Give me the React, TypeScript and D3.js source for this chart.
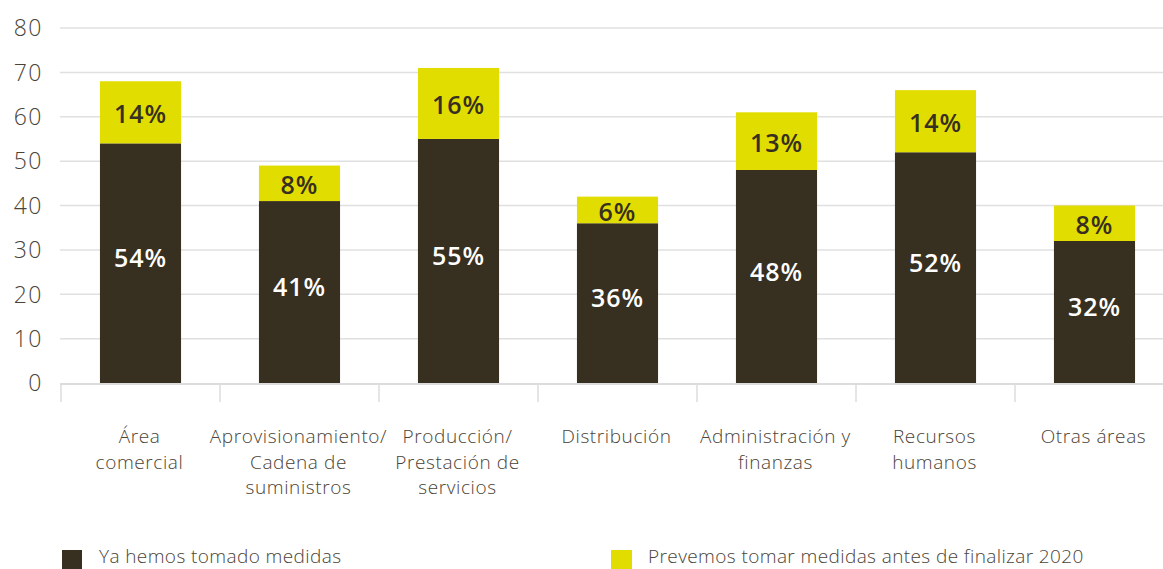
import React from "react";
import * as d3 from "d3";

const categories: string[][] = [
  ["Área", "comercial"],
  ["Aprovisionamiento/", "Cadena de", "suministros"],
  ["Producción/", "Prestación de", "servicios"],
  ["Distribución"],
  ["Administración y", "finanzas"],
  ["Recursos", "humanos"],
  ["Otras áreas"],
];
const taken: number[] = [54, 41, 55, 36, 48, 52, 32];
const planned: number[] = [14, 8, 16, 6, 13, 14, 8];
const yTicks: number[] = [0, 10, 20, 30, 40, 50, 60, 70, 80];
const seriesNames: string[] = [
  "Ya hemos tomado medidas",
  "Prevemos tomar medidas antes de finalizar 2020",
];

const W = 1163;
const H = 569;
const DARK = "#372f20";
const YELLOW = "#e2dd00";
const TEXT = "#4a4337";
const FONT = "'Open Sans', sans-serif";

export default function App() {
  const keys = categories.map((_, i) => String(i));
  const x = d3
    .scaleBand<string>()
    .domain(keys)
    .range([60, 1173])
    .paddingInner(0.49)
    .paddingOuter(0.245);
  const y = d3.scaleLinear().domain([0, 80]).range([383, 28]);
  const step = x.step();
  const bandStart = 60;

  return (
    <svg
      width={W}
      height={H}
      style={{ position: "absolute", left: 0, top: 0, display: "block", background: "#fff" }}
      fontFamily={FONT}
    >
      {yTicks.map((t) => (
        <g key={t}>
          {t > 0 && (
            <line x1={60} x2={W} y1={y(t)} y2={y(t)} stroke="#e0e0e0" strokeWidth={1.5} />
          )}
          <text
            x={43}
            y={y(t)}
            dy="0.36em"
            textAnchor="end"
            fontSize={23}
            fontWeight={300}
            letterSpacing={1.5}
            fill={TEXT}
          >
            {t}
          </text>
        </g>
      ))}
      <line x1={60} x2={W} y1={y(0) + 1} y2={y(0) + 1} stroke="#dcdcdc" strokeWidth={2} />
      {d3.range(categories.length + 1).map((i) => (
        <line
          key={i}
          x1={bandStart + i * step + 1}
          x2={bandStart + i * step + 1}
          y1={y(0)}
          y2={402}
          stroke="#dcdcdc"
          strokeWidth={1.5}
        />
      ))}
      {keys.map((k, i) => {
        const bx = (x(k) as number) + 1;
        const bw = x.bandwidth();
        const y0 = y(0);
        const y1 = y(taken[i]);
        const y2 = y(taken[i] + planned[i]);
        return (
          <g key={k}>
            <rect x={bx} y={y1} width={bw} height={y0 - y1} fill={DARK} />
            <rect x={bx} y={y2} width={bw} height={y1 - y2} fill={YELLOW} />
            <text
              x={bx + bw / 2}
              y={(y0 + y1) / 2 - 5}
              dy="0.36em"
              textAnchor="middle"
              fontSize={25}
              fontWeight={600}
              letterSpacing={1}
              fill="#ffffff"
            >
              {taken[i]}%
            </text>
            <text
              x={bx + bw / 2}
              y={(y1 + y2) / 2 + 2}
              dy="0.36em"
              textAnchor="middle"
              fontSize={25}
              fontWeight={600}
              letterSpacing={1}
              fill={DARK}
            >
              {planned[i]}%
            </text>
            <text
              x={bandStart + (i + 0.5) * step}
              y={443}
              textAnchor="middle"
              fontSize={19}
              fontWeight={300}
              letterSpacing={0.6}
              fill={TEXT}
            >
              {categories[i].map((line, j) => (
                <tspan key={j} x={bandStart + (i + 0.5) * step} dy={j === 0 ? 0 : 25.5}>
                  {line}
                </tspan>
              ))}
            </text>
          </g>
        );
      })}
      <rect x={62} y={550} width={20} height={20} fill={DARK} />
      <text x={99} y={563} fontSize={19} fontWeight={300} letterSpacing={0.4} fill={TEXT}>
        {seriesNames[0]}
      </text>
      <rect x={611} y={550} width={21} height={20} fill={YELLOW} />
      <text x={648} y={563} fontSize={19} fontWeight={300} letterSpacing={0.4} fill={TEXT}>
        {seriesNames[1]}
      </text>
    </svg>
  );
}
